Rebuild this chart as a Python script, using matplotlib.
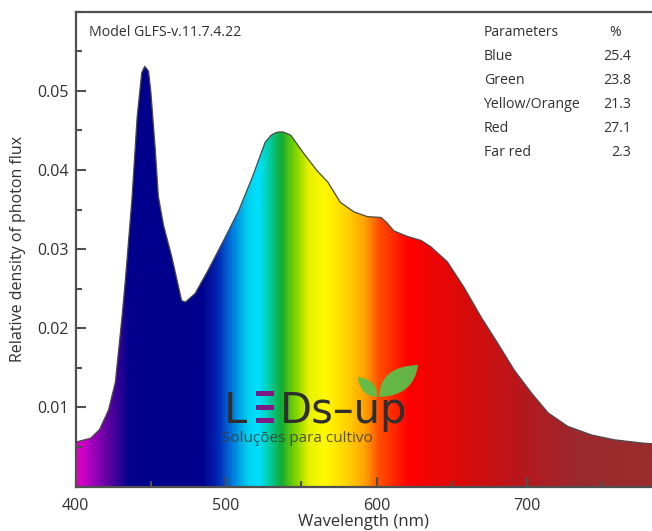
import numpy as np
import matplotlib
matplotlib.use('Agg')
import matplotlib.pyplot as plt
from matplotlib.colors import LinearSegmentedColormap
from matplotlib.patches import Polygon, PathPatch, Rectangle
from matplotlib.path import Path
from matplotlib.ticker import MultipleLocator

plt.rcParams['font.family'] = ['Open Sans', 'DejaVu Sans']

# Spectrum (nm, relative photon flux density)
wavelength = [400, 410, 416, 422, 426.5, 431, 433, 437.5, 441, 444, 446, 448.5, 450, 453,
              455, 458.5, 464, 470.5, 473, 479.5, 488, 499.5, 508.5, 517.5, 526, 530, 533,
              535, 538, 543, 552, 560.5, 567.5, 576, 585, 594, 603, 607, 611.5, 620.5,
              629.5, 636, 647, 658, 669.5, 680.5, 691.5, 703, 714, 727, 743, 758, 776, 783]
flux = [0.0056, 0.0061, 0.0072, 0.0097, 0.0132, 0.0216, 0.0258, 0.0363, 0.0468, 0.0523,
        0.0531, 0.0525, 0.0500, 0.0426, 0.0367, 0.0330, 0.0290, 0.0235, 0.0233, 0.0244,
        0.0273, 0.0315, 0.0349, 0.0391, 0.0435, 0.0444, 0.0447, 0.0448, 0.0448, 0.0444,
        0.0420, 0.0399, 0.0385, 0.0359, 0.0347, 0.0341, 0.0340, 0.0333, 0.0323, 0.0316,
        0.0311, 0.0303, 0.0284, 0.0252, 0.0214, 0.0181, 0.0147, 0.0118, 0.0093, 0.0076,
        0.0065, 0.0059, 0.0055, 0.0054]

# Parameters table
param_names = ['Blue', 'Green', 'Yellow/Orange', 'Red', 'Far red']
param_values = ['25.4', '23.8', '21.3', '27.1', '2.3']

x_ticks = [400, 500, 600, 700]
y_ticks = [0.01, 0.02, 0.03, 0.04, 0.05]

# colour of the fill along the wavelength axis
stop_wl = [400, 408, 421, 435, 483, 494, 503, 514, 521, 527, 536, 545, 554, 565, 580,
           592, 601, 621, 655, 699, 732, 783]
stop_col = ['#e600c8', '#b000c0', '#5a00a0', '#00008c', '#00008c', '#0028b4', '#0078dc',
            '#00d2f0', '#00e1ff', '#00d2b4', '#14aa32', '#78d200', '#e6f000', '#fffa00',
            '#ffd200', '#ffa000', '#ff5000', '#ff0000', '#dc0a0a', '#b4191e', '#9b282d',
            '#9b2d2d']

W, H = 652, 531
fig = plt.figure(figsize=(W / 100, H / 100), dpi=100)
ax = fig.add_axes([75.5 / W, 1 - 486.5 / H, (W - 75.5) / W, (486.5 - 11.7) / H])
xmin, xmax = 400, 783
ax.set_xlim(xmin, xmax)
ax.set_ylim(0, 0.06)

cmap = LinearSegmentedColormap.from_list(
    'spec', [((w - xmin) / (xmax - xmin), c) for w, c in zip(stop_wl, stop_col)])
grad = np.linspace(xmin, xmax, 1000).reshape(1, -1)
im = ax.imshow(grad, extent=[xmin, xmax, 0, 0.06], aspect='auto', cmap=cmap,
               vmin=xmin, vmax=xmax, origin='lower', interpolation='bilinear', zorder=1)
verts = [(wavelength[0], 0)] + list(zip(wavelength, flux)) + [(wavelength[-1], 0)]
shape = Polygon(verts, closed=True, facecolor='none', edgecolor='none')
ax.add_patch(shape)
im.set_clip_path(shape)
ax.plot(wavelength, flux, color='#4a4a4a', lw=0.9, zorder=2)

# axes styling
for s in ['left', 'bottom', 'top']:
    ax.spines[s].set_color('#505050')
    ax.spines[s].set_linewidth(1.6)
ax.spines['right'].set_visible(False)
ax.set_xticks(x_ticks)
ax.set_yticks(y_ticks)
ax.set_yticklabels(['%.2f' % v for v in y_ticks])
ax.xaxis.set_minor_locator(MultipleLocator(50))
ax.yaxis.set_minor_locator(MultipleLocator(0.005))
ax.tick_params(which='both', direction='in', color='#505050', width=1.5,
               labelsize=11.5, labelcolor='#303030', top=False, right=False)
ax.tick_params(which='major', length=7)
ax.tick_params(which='minor', length=4.5)
ax.tick_params(axis='y', pad=5)
ax.tick_params(axis='x', pad=8)
ax.set_xlabel('Wavelength (nm)', fontsize=12, color='#303030', labelpad=0)
ax.set_ylabel('Relative density of photon flux', fontsize=11.5, color='#303030', labelpad=8)

# header texts
def fx(px):
    return px / W

def fy(py):
    return 1 - py / H

fig.text(fx(89), fy(32), 'Model GLFS-v.11.7.4.22', fontsize=10.2, color='#303030', va='center')
row_y = [33, 57, 80, 104, 128, 152]
fig.text(fx(484), fy(row_y[0]), 'Parameters', fontsize=10, color='#303030', va='center')
fig.text(fx(615), fy(row_y[0]), '%', fontsize=10, color='#303030', va='center', ha='center')
for yy, name, val in zip(row_y[1:], param_names, param_values):
    fig.text(fx(484), fy(yy), name, fontsize=10.2, color='#303030', va='center')
    fig.text(fx(631), fy(yy), val, fontsize=10.2, color='#303030', va='center', ha='right')

# logo
fig.text(fx(224), fy(423), 'L', fontsize=30, color='#2e2e2e', va='baseline',
         family='DejaVu Sans')
for by in [391, 405, 418]:
    fig.patches.append(Rectangle((fx(256), fy(by + 5)), (274 - 256) / W, 5 / H,
                                 transform=fig.transFigure, facecolor='#7d1a85',
                                 edgecolor='none'))
fig.text(fx(280), fy(423), 'Ds\u2013up', fontsize=30, color='#2e2e2e', va='baseline',
         family='DejaVu Sans')
fig.text(fx(222), fy(431), 'Soluções para cultivo', fontsize=11, color='#3c3c3c',
         va='top', alpha=0.85)

def leaf(base, c1, tip, c2):
    pts = [(fx(x), fy(y)) for x, y in [base, c1, tip, c2, base]]
    codes = [Path.MOVETO, Path.CURVE3, Path.CURVE3, Path.CURVE3, Path.CURVE3]
    return PathPatch(Path(pts, codes), transform=fig.transFigure,
                     facecolor='#5cbf4a', edgecolor='none', alpha=0.95)

fig.patches.append(leaf((379, 397), (380, 366), (418, 365), (414, 396)))
fig.patches.append(leaf((377, 397), (378, 380), (358, 377), (360, 396)))

fig.savefig('out.png', dpi=100)
